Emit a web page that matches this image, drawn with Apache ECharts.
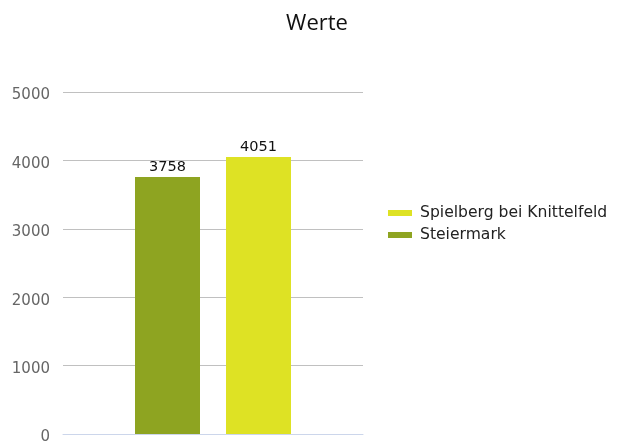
<!DOCTYPE html>
<html><head><meta charset="utf-8">
<script src="https://cdn.jsdelivr.net/npm/echarts@6/dist/echarts.min.js"></script>
<style>html,body{margin:0;padding:0;background:#fff}#c{width:622px;height:441px}</style>
</head><body><div id="c"></div>
<script>
const categories = ['Werte'];
const seriesNames = ['Steiermark', 'Spielberg bei Knittelfeld'];
const steiermark = [3758];
const spielberg = [4051];
const legendOrder = ['Spielberg bei Knittelfeld', 'Steiermark'];
const colors = ['#8ea421', '#dee224'];

const chart = echarts.init(document.getElementById('c'));
const font = 'DejaVu Sans';
chart.setOption({
  animation: false,
  title: { text: 'Werte', left: 312, textAlign: 'center', top: 8, textStyle: { fontFamily: 'Open Sans', fontSize: 22, fontWeight: 'normal', color: '#111' } },
  legend: { data: legendOrder, orient: 'vertical', left: 383, top: 200, itemWidth: 24, itemHeight: 6, itemGap: 6,
    textStyle: { fontFamily: font, fontSize: 15.6, color: '#222', padding: [0, 0, 0, 3] }, icon: 'rect' },
  grid: { left: 63, right: 259, top: 92, bottom: 7, containLabel: false, outerBoundsMode: 'none' },
  xAxis: { type: 'category', data: categories, axisLabel: { show: false }, axisTick: { show: false },
    axisLine: { lineStyle: { color: '#ccd6eb', width: 1 } } },
  yAxis: { type: 'value', min: 0, max: 5000, interval: 1000,
    axisLabel: { margin: 13, formatter: v => '{a|' + v + '}',
      rich: { a: { fontFamily: font, fontSize: 15, color: '#666', padding: [7, 0, 0, 0] } } },
    splitLine: { lineStyle: { color: '#c0c0c0', width: 1 } }, axisLine: { show: false }, axisTick: { show: false } },
  series: [
    { name: seriesNames[0], type: 'bar', data: steiermark, barWidth: 65, barGap: '40%', itemStyle: { color: colors[0] },
      label: { show: true, position: 'top', distance: 2, fontFamily: font, fontSize: 14.5, color: '#111' } },
    { name: seriesNames[1], type: 'bar', data: spielberg, barWidth: 65, itemStyle: { color: colors[1] },
      label: { show: true, position: 'top', distance: 2, fontFamily: font, fontSize: 14.5, color: '#111' } }
  ]
});
</script></body></html>
